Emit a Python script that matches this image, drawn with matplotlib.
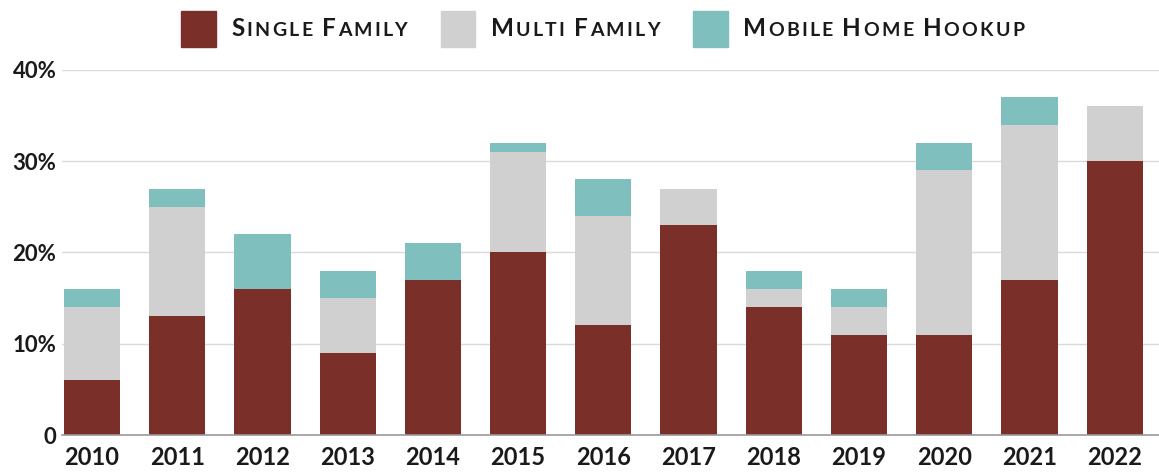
import matplotlib
matplotlib.use("Agg")
import matplotlib.pyplot as plt
from matplotlib.offsetbox import (TextArea, DrawingArea, HPacker,
                                  AnchoredOffsetbox)
from matplotlib.patches import Rectangle
import numpy as np

years = ['2010', '2011', '2012', '2013', '2014', '2015', '2016',
         '2017', '2018', '2019', '2020', '2021', '2022']
single_family = [6, 13, 16, 9, 17, 20, 12, 23, 14, 11, 11, 17, 30]
multi_family = [8, 12, 0, 6, 0, 11, 12, 4, 2, 3, 18, 17, 6]
mobile_home = [2, 2, 6, 3, 4, 1, 4, 0, 2, 2, 3, 3, 0]

series_names = ['Single Family', 'Multi Family', 'Mobile Home Hookup']
colors = ['#7a3029', '#d0d0d0', '#7fbfbd']
ytick_vals = [0, 10, 20, 30, 40]
ytick_labels = ['0', '10%', '20%', '30%', '40%']

plt.rcParams['font.family'] = ['Lato', 'DejaVu Sans']
text_color = '#1a1a1a'

fig = plt.figure(figsize=(11.59, 4.76), dpi=100)
ax = fig.add_axes([0.0535, 0.0861, 0.9465, 0.767])

x = np.arange(len(years))
width = 0.66
bottom = np.zeros(len(years))
for vals, col in zip([single_family, multi_family, mobile_home], colors):
    ax.bar(x, vals, width, bottom=bottom, color=col, zorder=3)
    bottom = bottom + np.array(vals)

ax.set_xlim(-0.352, 12.52)
ax.set_ylim(0, 40)
ax.set_xticks(x)
ax.set_xticklabels(years, fontsize=17, fontweight='bold', color=text_color)
ax.set_yticks(ytick_vals)
ax.set_yticklabels(ytick_labels, fontsize=16, fontweight='bold', color=text_color)
ax.tick_params(axis='both', length=0)
ax.tick_params(axis='x', pad=8)
ax.tick_params(axis='y', pad=4)
ax.grid(axis='y', color='#dadada', linewidth=1, zorder=0)
for s in ['top', 'right', 'left']:
    ax.spines[s].set_visible(False)
ax.spines['bottom'].set_color('#9a9a9a')
ax.spines['bottom'].set_linewidth(1.2)
ax.spines['bottom'].set_zorder(4)


# legend with small caps labels (letter by letter for a bit of tracking)
def small_caps(label):
    parts = []
    for word_i, word in enumerate(label.split(' ')):
        if word_i > 0:
            parts.append(TextArea(' ', textprops=dict(fontsize=14)))
        for ch_i, ch in enumerate(word.upper()):
            size = 17.5 if ch_i == 0 else 14
            parts.append(TextArea(ch, textprops=dict(
                fontsize=size, fontweight='bold', color=text_color)))
    return HPacker(children=parts, align='baseline', pad=0, sep=1.6)


items = []
for name, col in zip(series_names, colors):
    da = DrawingArea(25, 25, 0, 0)
    da.add_artist(Rectangle((0, -1), 25, 26, color=col))
    items.append(HPacker(children=[da, small_caps(name)], align='center',
                         pad=0, sep=11))
legend_box = HPacker(children=items, align='center', pad=0, sep=24)
anchored = AnchoredOffsetbox(loc='center', child=legend_box, frameon=False,
                             bbox_to_anchor=(0.52, 0.941),
                             bbox_transform=fig.transFigure, pad=0)
fig.add_artist(anchored)

fig.savefig('out.png', dpi=100)
plt.close(fig)
